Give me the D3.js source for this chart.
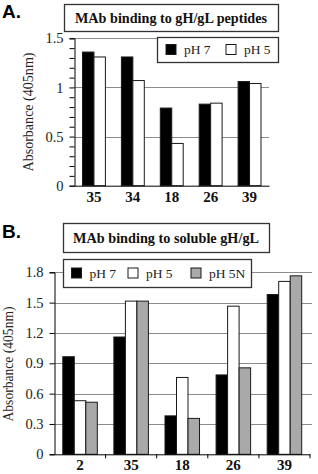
<!DOCTYPE html>
<html><head><meta charset="utf-8">
<script src="https://cdn.jsdelivr.net/npm/d3@7"></script>
<style>
html,body{margin:0;padding:0;background:#fff;}
svg{display:block;}
text{font-family:"Liberation Serif","Times New Roman",serif;}
</style></head>
<body>
<script>
// Panel A data
const catsA = ["35","34","18","26","39"];
const seriesA = ["pH 7","pH 5"];
const ph7A = [1.36, 1.31, 0.79, 0.83, 1.06];
const ph5A = [1.31, 1.07, 0.43, 0.84, 1.04];
const ticksA = [0, 0.5, 1, 1.5];
// Panel B data
const catsB = ["2","35","18","26","39"];
const seriesB = ["pH 7","pH 5","pH 5N"];
const ph7B = [0.965, 1.16, 0.38, 0.785, 1.58];
const ph5B = [0.53, 1.515, 0.76, 1.465, 1.71];
const ph5NB = [0.515, 1.515, 0.355, 0.855, 1.765];
const ticksB = [0, 0.3, 0.6, 0.9, 1.2, 1.5, 1.8];

const fills = {"pH 7":"#000","pH 5":"#fff","pH 5N":"#a9a9a9"};

const svg = d3.select("body").append("svg").attr("width",318).attr("height",474);

function panel(o){
  const g = svg.append("g");
  const x0 = d3.scaleBand().domain(o.cats).range([o.left,o.right]).padding(0);
  const x1 = d3.scaleBand().domain(o.series).range([0,x0.bandwidth()]).paddingInner(0).paddingOuter(o.po);
  const y = d3.scaleLinear().domain([0,o.max]).range([o.bottom,o.top]);
  // gridlines
  g.append("g").selectAll("line").data(o.ticks.filter(t=>t>0)).join("line")
    .attr("x1",o.left).attr("x2",o.gridRight)
    .attr("y1",d=>Math.round(y(d))+0.5).attr("y2",d=>Math.round(y(d))+0.5)
    .attr("stroke","#8c8c8c").attr("stroke-width",1);
  // bars
  const rows = o.cats.map((c,i)=>({c, vals:o.series.map((s,j)=>({s, v:o.values[j][i]}))}));
  g.append("g").selectAll("g").data(rows).join("g")
    .attr("transform",d=>`translate(${x0(d.c)},0)`)
    .selectAll("rect").data(d=>d.vals).join("rect")
      .attr("x",d=>x1(d.s)).attr("width",x1.bandwidth())
      .attr("y",d=>y(d.v)).attr("height",d=>o.bottom-y(d.v))
      .attr("fill",d=>fills[d.s]).attr("stroke","#1a1a1a").attr("stroke-width",1);
  // y axis
  const ya = d3.axisLeft(y).tickValues(o.yTickVals).tickSize(5).tickPadding(6)
    .tickFormat(d=>o.ticks.some(t=>Math.abs(t-d)<1e-6)?d3.format("~g")(d):"");
  const yg = g.append("g").attr("transform",`translate(${o.left},0)`).call(ya);
  yg.select(".domain").attr("stroke","#000");
  yg.selectAll(".tick line").attr("stroke","#000");
  yg.selectAll("text").attr("font-family","Liberation Serif").attr("font-size",14.5).attr("fill","#222");
  // x axis
  const xa = d3.axisBottom(x0).tickSize(0).tickPadding(o.xpad);
  const xg = g.append("g").attr("transform",`translate(0,${o.bottom})`).call(xa);
  xg.select(".domain").attr("stroke","#000");
  xg.selectAll("text").attr("font-family","Liberation Serif").attr("font-weight","bold").attr("font-size",15).attr("fill","#111");
  if(o.xBoundTicks){
    xg.append("g").selectAll("line").data(o.cats.slice(1).concat(["__end"])).join("line")
      .attr("x1",d=>d==="__end"?o.right:x0(d)).attr("x2",d=>d==="__end"?o.right:x0(d))
      .attr("y1",0).attr("y2",4).attr("stroke","#000");
  }
  // axis title
  g.append("text").attr("transform",`translate(${o.titleX},${o.titleY}) rotate(-90)`)
    .attr("text-anchor","middle").attr("font-size",14).attr("fill","#222")
    .attr("textLength",o.titleLen).attr("lengthAdjust","spacingAndGlyphs").text("Absorbance (405nm)");
  // title box
  g.append("rect").attr("x",o.tb[0]+0.5).attr("y",o.tb[1]+0.5).attr("width",o.tb[2]).attr("height",o.tb[3])
    .attr("fill","#fff").attr("stroke","#333").attr("stroke-width",1.3);
  g.append("text").attr("x",o.tb[0]+o.tb[2]/2).attr("y",o.tb[1]+o.tb[3]/2+5).attr("text-anchor","middle")
    .attr("font-weight","bold").attr("font-size",14).attr("fill","#111")
    .attr("textLength",o.tLen).attr("lengthAdjust","spacingAndGlyphs").text(o.title);
  // legend
  g.append("rect").attr("x",o.lb[0]+0.5).attr("y",o.lb[1]+0.5).attr("width",o.lb[2]).attr("height",o.lb[3])
    .attr("fill","#fff").attr("stroke","#333").attr("stroke-width",1.3);
  const li = g.append("g").selectAll("g").data(o.series).join("g")
    .attr("transform",(d,i)=>`translate(${o.lx[i]},${o.lb[1]+o.lb[3]/2})`);
  li.append("rect").attr("x",0).attr("y",-5).attr("width",10).attr("height",10)
    .attr("fill",d=>fills[d]).attr("stroke","#1a1a1a");
  li.append("text").attr("x",18).attr("y",4.5).attr("font-size",13.5).attr("fill","#222").text(d=>d);
  // panel label
  svg.append("text").attr("x",2).attr("y",o.labelY).attr("font-family","Liberation Sans")
    .style("font-family","Liberation Sans, Arial, sans-serif")
    .attr("font-weight","bold").attr("font-size",19).attr("fill","#000").text(o.label);
}

panel({cats:catsA, series:seriesA, values:[ph7A,ph5A], max:1.5, ticks:ticksA,
  yTickVals:d3.range(0,16).map(i=>i/10),
  left:74.5, right:269, top:38.3, bottom:185.7, gridRight:269, po:0.7, xpad:6,
  titleX:33, titleY:112, titleLen:119, title:"MAb binding to gH/gL peptides", tLen:192,
  tb:[64,4,214,27], lb:[157,37,121,25],
  lx:[166,226], label:"A.", labelY:18, xBoundTicks:false});

panel({cats:catsB, series:seriesB, values:[ph7B,ph5B,ph5NB], max:1.8, ticks:ticksB,
  yTickVals:ticksB,
  left:54.5, right:310, top:272.3, bottom:454.3, gridRight:312, po:0.72, xpad:5,
  titleX:13, titleY:364, titleLen:115, title:"MAb binding to soluble gH/gL", tLen:186,
  tb:[63,223,206,29], lb:[63,259,188,28],
  lx:[71.5,128,191], label:"B.", labelY:238, xBoundTicks:true});
</script>
</body></html>
